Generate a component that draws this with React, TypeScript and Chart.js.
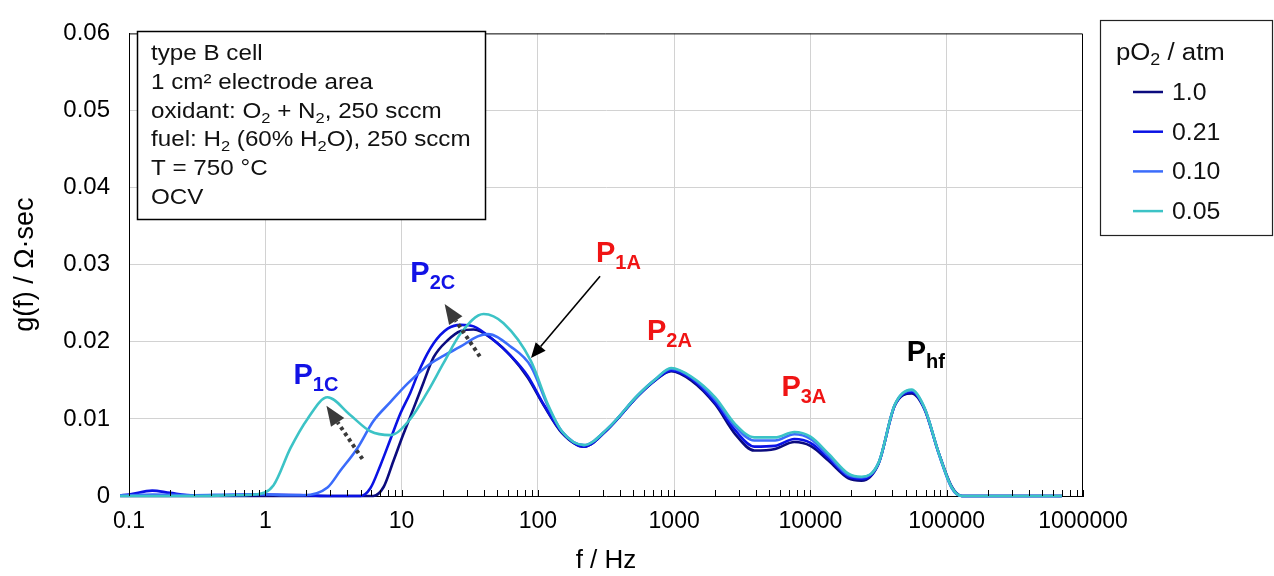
import React, { useEffect, useRef } from 'react';
import { Chart, registerables } from 'chart.js';

Chart.register(...registerables);

const FONT = '"Liberation Sans", Arial, Helvetica, sans-serif';

// ---------- axes ----------
const xMin = 0.1;
const xMax = 1000000;
const xMajorTicks = [0.1, 1, 10, 100, 1000, 10000, 100000, 1000000];
const xMinorMultipliers = [1, 2, 3, 4, 5, 6, 7, 8, 9];
const yMin = 0;
const yMax = 0.06;
const yStep = 0.01;
const xTitle = 'f / Hz';
const yTitle = 'g(f) / Ω·sec';

// ---------- series (frequency in Hz, g(f) in Ω·sec) ----------
const labels = ['1.0', '0.21', '0.10', '0.05'];
const colors = ['#0b0b7e', '#0a12e4', '#3b6cfb', '#3cc3c6'];

const freq_1_0 = [0.086, 0.1, 0.3, 1, 3, 6.2, 7.4, 8.7, 10.3, 12.2, 14.4, 17.2, 21.8, 27.2, 33.8, 47.5, 63, 84, 111,
  150, 218, 327, 543, 724, 950, 1333, 2000, 2812, 3870, 5500, 7620, 10000, 13550, 19000, 23700, 31600, 41500, 55300, 68900, 87300, 109000, 129000, 200000, 400000, 700000];
const g_1_0 = [0, 0, 0, 0, 0, 0, 0.0012, 0.0045, 0.0080, 0.0113, 0.0146, 0.0180, 0.0202, 0.0214, 0.0216, 0.0202, 0.0182, 0.0154, 0.0117,
  0.0082, 0.0064, 0.0087, 0.0130, 0.0150, 0.0162, 0.0150, 0.0119, 0.0080, 0.0059, 0.0061, 0.0070, 0.0065, 0.0046, 0.0023, 0.0020, 0.0042, 0.0117, 0.0133, 0.0112, 0.0056, 0.0012, 0, 0, 0, 0];

const freq_0_21 = [0.086, 0.1, 0.148, 0.2, 0.3, 0.5, 1.0, 2, 3, 5.0, 5.9, 7.0, 8.3, 9.8, 11.6, 13.8, 17.2, 21.8, 27.2, 33.8, 47.5, 63, 84, 111,
  150, 218, 327, 543, 724, 950, 1333, 2000, 2812, 3870, 5500, 7620, 10000, 13550, 19000, 23700, 31600, 41500, 55300, 68900, 87300, 109000, 129000, 200000, 400000, 700000];
const g_0_21 = [0.0001, 0.0002, 0.0007, 0.0004, 0.0001, 0.0001, 0.0002, 0.0001, 0, 0, 0.0010, 0.0040, 0.0074, 0.0107, 0.0134, 0.0167, 0.0198, 0.0217, 0.0222, 0.0220, 0.0202, 0.0182, 0.0156, 0.0118,
  0.0083, 0.0064, 0.0087, 0.0130, 0.0150, 0.0163, 0.0152, 0.0121, 0.0085, 0.0064, 0.0065, 0.0074, 0.0069, 0.0049, 0.0025, 0.0022, 0.0042, 0.0117, 0.0135, 0.0113, 0.0056, 0.0011, 0, 0, 0, 0];

const freq_0_10 = [0.086, 0.1, 0.15, 0.3, 0.6, 1.0, 1.5, 1.9, 2.86, 3.56, 4.74, 6.2, 8.3, 11.1, 15.5, 20.4, 27.2, 36.2, 43, 63, 89, 119,
  150, 218, 327, 543, 724, 950, 1333, 2000, 2812, 3870, 5500, 7620, 10000, 13550, 19000, 23700, 31600, 41500, 55300, 68900, 87300, 109000, 129000, 200000, 400000, 700000];
const g_0_10 = [0.0001, 0.0001, 0.0002, 0.0001, 0.0002, 0.0002, 0.0001, 0.0001, 0.0011, 0.0033, 0.0062, 0.0097, 0.0122, 0.0146, 0.0169, 0.0182, 0.0194, 0.0207, 0.0210, 0.0194, 0.0168, 0.0116,
  0.0084, 0.0066, 0.0088, 0.0131, 0.0151, 0.0165, 0.0154, 0.0125, 0.0090, 0.0072, 0.0072, 0.0080, 0.0074, 0.0052, 0.0027, 0.0024, 0.0043, 0.0118, 0.0137, 0.0113, 0.0055, 0.0010, 0, 0, 0, 0];

const freq_0_05 = [0.086, 0.1, 0.3, 0.6, 0.85, 1.15, 1.53, 2.04, 2.86, 4.2, 5.9, 8.3, 11.6, 15.5, 20.4, 27.2, 40, 56, 89, 119,
  150, 218, 327, 543, 724, 950, 1333, 2000, 2812, 3870, 5500, 7620, 10000, 13550, 19000, 23700, 31600, 41500, 55300, 68900, 87300, 109000, 129000, 200000, 400000, 700000];
const g_0_05 = [0, 0, 0, 0.0001, 0.0002, 0.0014, 0.0062, 0.0100, 0.0128, 0.0105, 0.0084, 0.0079, 0.0100, 0.0135, 0.0173, 0.0211, 0.0236, 0.0224, 0.0175, 0.0118,
  0.0084, 0.0066, 0.0088, 0.0131, 0.0151, 0.0166, 0.0155, 0.0128, 0.0093, 0.0076, 0.0076, 0.0083, 0.0077, 0.0055, 0.0029, 0.0025, 0.0043, 0.0118, 0.0138, 0.0114, 0.0056, 0.0011, 0, 0, 0, 0];

const seriesFreq = [freq_1_0, freq_0_21, freq_0_10, freq_0_05];
const seriesG = [g_1_0, g_0_21, g_0_10, g_0_05];

// ---------- texts ----------
type Seg = [string, 'n' | 's'];
const legendTitle: Seg[] = [['pO', 'n'], ['2', 's'], [' / atm', 'n']];
const infoLines: Seg[][] = [
  [['type B cell', 'n']],
  [['1 cm² electrode area', 'n']],
  [['oxidant: O', 'n'], ['2', 's'], [' + N', 'n'], ['2', 's'], [', 250 sccm', 'n']],
  [['fuel: H', 'n'], ['2', 's'], [' (60% H', 'n'], ['2', 's'], ['O), 250 sccm', 'n']],
  [['T = 750 °C', 'n']],
  [['OCV', 'n']],
];

// peak labels: [main, subscript, colour, f (left of label), g (baseline)]
const peakLabels: [string, string, string, number, number][] = [
  ['P', '1C', '#1212e6', 1.61, 0.0145],
  ['P', '2C', '#1212e6', 11.6, 0.0278],
  ['P', '1A', '#f01414', 267, 0.0304],
  ['P', '2A', '#f01414', 632, 0.0202],
  ['P', '3A', '#f01414', 6124, 0.0130],
  ['P', 'hf', '#000000', 50800, 0.0175],
];

// arrows: [fromF, fromG, toF, toG, dotted]
const arrows: [number, number, number, number, boolean][] = [
  [286, 0.0285, 89, 0.0179, false],
  [5.16, 0.0048, 2.81, 0.0117, true],
  [37.5, 0.0181, 20.7, 0.0249, true],
];

function drawRich(ctx: CanvasRenderingContext2D, segs: Seg[], x: number, y: number, size: number, subSize: number, subDy: number, weight: string, stretch: number) {
  ctx.save();
  ctx.translate(x, y);
  ctx.scale(stretch, 1);
  let cx = 0;
  ctx.textBaseline = 'alphabetic';
  ctx.textAlign = 'left';
  for (const [t, s] of segs) {
    const fs = s === 'n' ? size : subSize;
    ctx.font = `${weight} ${fs}px ${FONT}`;
    ctx.fillText(t, cx, s === 's' ? subDy : 0);
    cx += ctx.measureText(t).width;
  }
  ctx.restore();
}

function drawArrow(ctx: CanvasRenderingContext2D, x1: number, y1: number, x2: number, y2: number, dotted: boolean) {
  const ang = Math.atan2(y2 - y1, x2 - x1);
  const headL = dotted ? 20 : 15;
  const headW = dotted ? 8 : 6.5;
  const bx = x2 - headL * Math.cos(ang);
  const by = y2 - headL * Math.sin(ang);
  ctx.save();
  const col = dotted ? '#3a3a3a' : '#000';
  ctx.strokeStyle = col;
  ctx.fillStyle = col;
  ctx.lineWidth = dotted ? 4 : 1.6;
  if (dotted) ctx.setLineDash([3.5, 3.5]);
  ctx.beginPath();
  ctx.moveTo(x1, y1);
  ctx.lineTo(bx, by);
  ctx.stroke();
  ctx.setLineDash([]);
  ctx.beginPath();
  ctx.moveTo(x2, y2);
  ctx.lineTo(bx + headW * Math.sin(ang), by - headW * Math.cos(ang));
  ctx.lineTo(bx - headW * Math.sin(ang), by + headW * Math.cos(ang));
  ctx.closePath();
  ctx.fill();
  ctx.restore();
}

const isMajor = (v: number) => xMajorTicks.some((m) => Math.abs(v - m) / m < 1e-6);

const annotPlugin = {
  id: 'annot',
  afterDraw(chart: any) {
    const { ctx, chartArea: a, scales } = chart;
    const xs = scales.x;
    const ys = scales.y;
    ctx.save();
    // top & right frame
    ctx.strokeStyle = '#000';
    ctx.lineWidth = 1;
    ctx.beginPath();
    ctx.moveTo(a.left, a.top + 0.5);
    ctx.lineTo(a.right - 0.5, a.top + 0.5);
    ctx.lineTo(a.right - 0.5, a.bottom);
    ctx.stroke();
    // inward minor ticks on x axis
    for (const t of xs.ticks) {
      const px = Math.round(xs.getPixelForValue(t.value)) + 0.5;
      ctx.beginPath();
      ctx.moveTo(px, a.bottom);
      ctx.lineTo(px, a.bottom - 6);
      ctx.stroke();
    }

    // info box
    ctx.fillStyle = '#fff';
    ctx.fillRect(137, 31, 349, 189);
    ctx.strokeStyle = '#000';
    ctx.lineWidth = 1.5;
    ctx.strokeRect(137.5, 31.5, 348, 188);
    ctx.fillStyle = '#111';
    infoLines.forEach((ln, i) => {
      drawRich(ctx, ln, 151, 60 + i * 28.8, 22, 15, 5, 'normal', 1.1);
    });

    // legend box
    ctx.fillStyle = '#fff';
    ctx.fillRect(1100, 20, 174, 216);
    ctx.strokeStyle = '#222';
    ctx.lineWidth = 1.2;
    ctx.strokeRect(1100.5, 20.5, 172, 215);
    ctx.fillStyle = '#111';
    drawRich(ctx, legendTitle, 1116, 60, 23, 16, 5, 'normal', 1.12);
    labels.forEach((lb, i) => {
      const yy = 92 + i * 39.7;
      ctx.strokeStyle = colors[i];
      ctx.lineWidth = 2.5;
      ctx.beginPath();
      ctx.moveTo(1133, yy);
      ctx.lineTo(1163, yy);
      ctx.stroke();
      ctx.fillStyle = '#111';
      drawRich(ctx, [[lb, 'n']], 1172, yy + 8, 23, 15, 5, 'normal', 1.08);
    });

    // arrows
    for (const [f1, g1, f2, g2, dotted] of arrows) {
      drawArrow(ctx, xs.getPixelForValue(f1), ys.getPixelForValue(g1), xs.getPixelForValue(f2), ys.getPixelForValue(g2), dotted);
    }
    // peak labels
    for (const [m, sub, col, f, g] of peakLabels) {
      ctx.fillStyle = col;
      drawRich(ctx, [[m, 'n'], [sub, 's']], xs.getPixelForValue(f), ys.getPixelForValue(g), 29, 20, 7, 'bold', 1.0);
    }
    ctx.restore();
  },
};

export default function App() {
  const ref = useRef<HTMLCanvasElement | null>(null);
  useEffect(() => {
    if (!ref.current) return;
    const order = [3, 2, 1, 0];
    const chart = new Chart(ref.current, {
      type: 'line',
      data: {
        datasets: labels.map((lb, i) => ({
          label: lb,
          data: seriesFreq[i].map((f, j) => ({ x: f, y: seriesG[i][j] })),
          borderColor: colors[i],
          backgroundColor: colors[i],
          borderWidth: 2.6,
          pointRadius: 0,
          fill: false,
          cubicInterpolationMode: 'monotone' as const,
          order: order[i],
          clip: { left: 12, right: 2, top: 2, bottom: 4 } as any,
        })),
      },
      options: {
        responsive: false,
        animation: false,
        devicePixelRatio: 1,
        layout: { padding: { top: 24, right: 191, left: 0, bottom: 0 } },
        plugins: { legend: { display: false }, tooltip: { enabled: false } },
        scales: {
          x: {
            type: 'logarithmic',
            min: xMin,
            max: xMax,
            afterFit: (s: any) => { s.height = 80; },
            afterBuildTicks: (s: any) => {
              const t: { value: number }[] = [];
              xMajorTicks.forEach((m) => {
                xMinorMultipliers.forEach((k) => {
                  const v = m * k;
                  if (v <= xMax * 1.0000001) t.push({ value: v });
                });
              });
              s.ticks = t;
            },
            ticks: {
              autoSkip: false,
              maxRotation: 0,
              minRotation: 0,
              padding: 12,
              color: '#000',
              font: { family: FONT, size: 23 },
              callback: (v: any) => {
                const n = Number(v);
                if (!isMajor(n)) return '';
                return n < 1 ? String(n) : String(Math.round(n));
              },
            },
            grid: {
              drawTicks: false,
              lineWidth: 1,
              color: (c: any) => (c.tick && isMajor(c.tick.value) && c.tick.value > xMin * 1.01 && c.tick.value < xMax * 0.99 ? '#d2d2d2' : 'rgba(0,0,0,0)'),
            },
            border: { color: '#000', width: 1 },
            title: { display: true, text: xTitle, color: '#000', font: { family: FONT, size: 26 }, padding: { top: 0, bottom: 0 } },
          },
          y: {
            type: 'linear',
            min: yMin,
            max: yMax,
            afterFit: (s: any) => { s.width = 129; },
            ticks: {
              stepSize: yStep,
              padding: 19,
              color: '#000',
              font: { family: FONT, size: 24 },
              callback: (v: any) => (Math.abs(Number(v)) < 1e-9 ? '0' : Number(v).toFixed(2)),
            },
            grid: {
              drawTicks: false,
              lineWidth: 1,
              color: (c: any) => (c.tick && c.tick.value > 0.0001 && c.tick.value < yMax - 0.0001 ? '#d2d2d2' : 'rgba(0,0,0,0)'),
            },
            border: { color: '#000', width: 1 },
            title: { display: true, text: yTitle, color: '#000', font: { family: FONT, size: 27 }, padding: { top: 9, bottom: 0 } },
          },
        },
      },
      plugins: [annotPlugin],
    } as any);
    return () => chart.destroy();
  }, []);
  return (
    <div style={{ position: 'fixed', left: 0, top: 0, width: 1274, height: 576, background: '#fff' }}>
      <canvas ref={ref} width={1274} height={576} style={{ display: 'block' }} />
    </div>
  );
}
